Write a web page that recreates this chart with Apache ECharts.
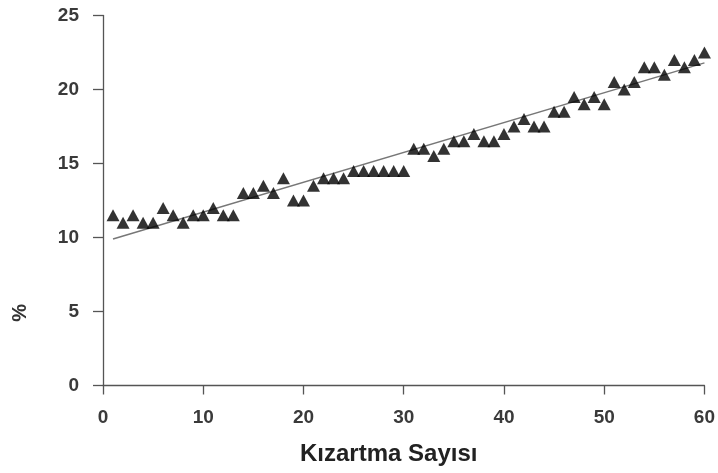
<!DOCTYPE html>
<html>
<head>
<meta charset="utf-8">
<script src="https://cdn.jsdelivr.net/npm/echarts@6/dist/echarts.min.js"></script>
<style>
html,body{margin:0;padding:0;background:#fff;}
#chart{width:718px;height:473px;}
</style>
</head>
<body>
<div id="chart"></div>
<script>
var xValues = [1,2,3,4,5,6,7,8,9,10,11,12,13,14,15,16,17,18,19,20,21,22,23,24,25,26,27,28,29,30,31,32,33,34,35,36,37,38,39,40,41,42,43,44,45,46,47,48,49,50,51,52,53,54,55,56,57,58,59,60];
var yValues = [11.5,11,11.5,11,11,12,11.5,11,11.5,11.5,12,11.5,11.5,13,13,13.5,13,14,12.5,12.5,13.5,14,14,14,14.5,14.5,14.5,14.5,14.5,14.5,16,16,15.5,16,16.5,16.5,17,16.5,16.5,17,17.5,18,17.5,17.5,18.5,18.5,19.5,19,19.5,19,20.5,20,20.5,21.5,21.5,21,22,21.5,22,22.5];
var trendX = [1, 60];
var trendY = [9.9, 21.8];
var xTicks = [0,10,20,30,40,50,60];
var yTicks = [0,5,10,15,20,25];

var pts = xValues.map(function(x,i){return [x, yValues[i]];});
var trend = trendX.map(function(x,i){return [x, trendY[i]];});

var chart = echarts.init(document.getElementById('chart'));
var labelStyle = {color:'#3a3a3a', fontSize:19, fontWeight:'bold', fontFamily:'Liberation Sans, Arial, sans-serif'};
var axisLine = {show:true, lineStyle:{color:'#555', width:1.3}};
chart.setOption({
  animation:false,
  backgroundColor:'#fff',
  grid:{left:103, right:11, top:15.5, bottom:87.5, containLabel:false},
  xAxis:{
    type:'value', min:0, max:60, interval:10,
    axisLine:axisLine,
    axisTick:{show:true, length:9, lineStyle:{color:'#555', width:1.3}},
    axisLabel:Object.assign({margin:23}, labelStyle),
    splitLine:{show:false},
    name:'Kızartma Sayısı', nameLocation:'middle', nameGap:57,
    nameTextStyle:{color:'#222', fontSize:24, fontWeight:'bold', fontFamily:'Liberation Sans, Arial, sans-serif', padding:[0,30,0,0]}
  },
  yAxis:{
    type:'value', min:0, max:25, interval:5,
    axisLine:axisLine,
    axisTick:{show:true, length:10, lineStyle:{color:'#555', width:1.3}},
    axisLabel:Object.assign({margin:24}, labelStyle),
    splitLine:{show:false}
  },
  graphic:[{
    type:'text', left:10, top:304, rotation:Math.PI/2,
    style:{text:'%', fill:'#333', font:'bold 20px "Liberation Sans", Arial, sans-serif'}
  }],
  series:[
    {type:'line', data:trend, symbol:'none', lineStyle:{color:'#777', width:1.5}, z:1},
    {type:'scatter', data:pts, symbol:'triangle', symbolSize:[13,12], itemStyle:{color:'#000'}, z:2}
  ]
});
</script>
</body>
</html>
